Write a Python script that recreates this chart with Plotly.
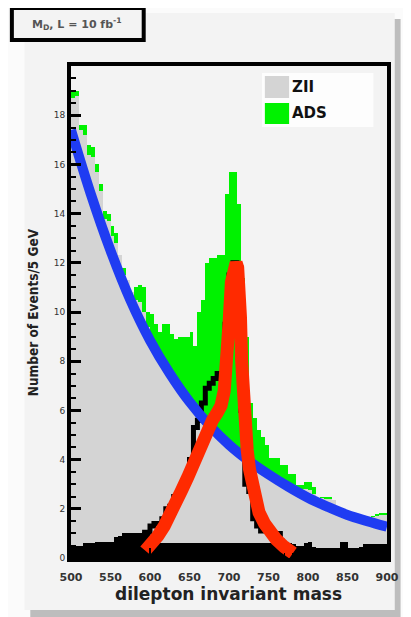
import plotly.graph_objects as go

# ---------------- data ----------------
mass_lo = list(range(500, 900, 5))  # left edges of 5 GeV bins

ads = [19.0, 19.0, 17.6, 17.6, 16.8, 16.7, 16.0, 15.2, 14.1, 14.0,
       13.5, 13.2, 12.3, 11.8, 11.3, 10.8, 11.0, 11.1, 11.0, 10.0,
       9.9, 9.5, 9.2, 9.5, 9.5, 9.1, 8.9, 9.0, 9.0, 9.0,
       9.2, 8.6, 10.0, 10.5, 12.0, 12.2, 12.2, 12.3, 12.3, 14.8,
       15.7, 15.7, 14.4, 11.4, 9.0, 6.3, 5.7, 5.2, 4.9, 4.6,
       4.05, 4.05, 4.05, 3.8, 3.8, 3.4, 3.4, 2.95, 2.95, 3.1,
       3.1, 2.9, 2.45, 2.5, 2.5, 2.5, 2.35, 2.05, 2.05, 1.85,
       1.86, 1.86, 1.7, 1.65, 1.65, 1.65, 1.7, 1.8, 1.82, 1.82]

zii = [18.7, 18.8, 17.4, 17.2, 16.4, 16.3, 15.7, 14.9, 13.8, 13.7,
       13.1, 12.8, 12.3, 11.5, 11.3, 10.8, 10.5, 10.4, 10.0, 9.4,
       8.7, 8.4, 8.1, 7.9, 7.6, 7.4, 7.1, 6.9, 6.7, 6.5,
       6.2, 6.0, 5.8, 5.6, 5.4, 5.2, 5.0, 4.9, 4.7, 4.6,
       4.4, 4.3, 4.2, 4.0, 3.9, 3.8, 3.8, 3.7, 3.6, 3.5,
       3.4, 3.3, 3.3, 3.2, 3.1, 3.0, 2.95, 2.85, 2.8, 2.8,
       2.75, 2.6, 2.45, 2.45, 2.4, 2.4, 2.35, 1.95, 1.9, 1.85,
       1.8, 1.75, 1.7, 1.65, 1.6, 1.6, 1.65, 1.7, 1.75, 1.75]

# low black band along the axis (all bins)
black_band = [0.45, 0.5, 0.5, 0.6, 0.6, 0.6, 0.65, 0.65, 0.65, 0.65,
              0.65, 0.85, 0.9, 1.0, 1.0, 1.0, 1.0, 1.0, 1.05, 1.05,
              0.6, 0.6, 0.6, 0.6, 0.6, 0.6, 0.6, 0.6, 0.6, 0.6,
              0.6, 0.6, 0.6, 0.6, 0.6, 0.6, 0.6, 0.6, 0.6, 0.6,
              0.6, 0.6, 0.6, 0.6, 0.6, 0.6, 0.6, 0.6, 0.6, 0.6,
              0.6, 0.6, 0.6, 0.7, 0.6, 0.6, 0.55, 0.5, 0.5, 0.6,
              0.64, 0.45, 0.4, 0.4, 0.4, 0.4, 0.4, 0.4, 0.64, 0.64,
              0.4, 0.4, 0.4, 0.45, 0.55, 0.55, 0.55, 0.55, 0.55, 0.55]

# black outline histogram around the resonance (bin left edges 590..765, closing edge 770)
peak_lo = list(range(590, 775, 5))
peak_hist = [1.05, 1.05, 1.3, 1.4, 1.4, 1.6, 2.0, 2.1, 2.5, 2.6,
             3.0, 3.3, 4.0, 5.3, 5.6, 6.3, 6.9, 7.1, 7.3, 7.5,
             7.5, 9.5, 11.5, 12.0, 11.8, 6.0, 3.0, 2.7, 1.6, 1.3,
             1.1, 1.1, 1.0, 1.0, 1.0, 0.7, 0.7]

bkg_fit_m = [500, 525, 550, 575, 600, 625, 650, 675, 700, 725, 750, 775, 800, 825, 850, 875, 900]
bkg_fit_y = [17.4, 14.8, 12.5, 10.5, 8.85, 7.5, 6.35, 5.4, 4.6, 3.95, 3.4, 2.9, 2.45, 2.08, 1.75, 1.5, 1.27]

sig_fit_m = [594, 603, 610, 618, 626, 633, 640, 648, 655, 661, 667, 673, 679, 685, 690, 694, 697,
             700, 703, 705, 707, 709, 711, 713, 714.5, 716, 718, 720, 723, 726, 729, 733, 738, 745, 752,
             760, 770, 781]
sig_fit_y = [0.3, 0.6, 0.9, 1.3, 1.75, 2.2, 2.75, 3.3, 3.9, 4.4, 4.9, 5.3, 5.6, 5.9, 6.2, 6.8, 7.8,
             9.5, 11.2, 11.8, 12.0, 12.0, 11.8, 11.0, 9.8, 8.0, 6.5, 5.5, 4.4, 3.6, 3.0, 2.4, 1.85, 1.4,
             1.05, 0.75, 0.45, 0.2]

x_ticks = [500, 550, 600, 650, 700, 750, 800, 850, 900]
y_ticks = [0, 2, 4, 6, 8, 10, 12, 14, 16, 18]
legend_labels = ["ZII", "ADS"]

# ---------------- layout geometry (page pixels; page body has an 8px margin) ----------------
OFF = 8
W, H = 411 - OFF, 617 - OFF
L, T = 71 - OFF, 66 - OFF
PW, PH = 326, 492
R, B = W - L - PW, H - T - PH


def px(xp):
    return (xp - OFF - L) / PW


def py(yp):
    return (T + PH - (yp - OFF)) / PH


GREEN = "#00f200"
GRAY = "#d4d4d4"
BLUE = "#1f3cf2"
RED = "#ff2a00"
BG = "#f3f3f3"

fig = go.Figure()
fig.add_trace(go.Bar(x=mass_lo, y=ads, width=5, offset=0, marker=dict(color=GREEN, line=dict(width=0)),
                     name=legend_labels[1], showlegend=False))
fig.add_trace(go.Bar(x=mass_lo, y=zii, width=5, offset=0, marker=dict(color=GRAY, line=dict(width=0)),
                     name=legend_labels[0], showlegend=False))
fig.add_trace(go.Bar(x=mass_lo, y=black_band, width=5, offset=0, marker=dict(color="#000000", line=dict(width=0)),
                     showlegend=False))
fig.add_trace(go.Scatter(x=peak_lo, y=peak_hist, mode="lines", line=dict(color="#000000", width=5, shape="hv"),
                         showlegend=False))
fig.add_trace(go.Scatter(x=bkg_fit_m, y=bkg_fit_y, mode="lines", line=dict(color=BLUE, width=10, shape="spline"),
                         showlegend=False))
fig.add_trace(go.Scatter(x=sig_fit_m, y=sig_fit_y, mode="lines", line=dict(color=RED, width=13),
                         showlegend=False))

shapes = []
# pad shadow and pad
shapes.append(dict(type="rect", xref="paper", yref="paper", x0=px(29), x1=px(411), y0=py(617), y1=py(19),
                   fillcolor="#bdbdbd", line=dict(width=0), layer="below"))
shapes.append(dict(type="rect", xref="paper", yref="paper", x0=px(23), x1=px(405), y0=py(610), y1=py(13),
                   fillcolor=BG, line=dict(width=0), layer="below"))
# title box
shapes.append(dict(type="rect", xref="paper", yref="paper", x0=px(10), x1=px(146), y0=py(40), y1=py(8),
                   fillcolor=BG, line=dict(width=4, color="black"), layer="above"))
# legend box
shapes.append(dict(type="rect", xref="paper", yref="paper", x0=px(268), x1=px(383), y0=py(127), y1=py(73),
                   fillcolor="#fdfdfd", line=dict(width=0), layer="above"))
shapes.append(dict(type="rect", xref="paper", yref="paper", x0=px(271), x1=px(296), y0=py(98), y1=py(76),
                   fillcolor=GRAY, line=dict(width=0), layer="above"))
shapes.append(dict(type="rect", xref="paper", yref="paper", x0=px(271), x1=px(296), y0=py(124), y1=py(103),
                   fillcolor=GREEN, line=dict(width=0), layer="above"))

annotations = [
    dict(text="M<sub>D</sub>, L = 10 fb<sup>-1</sup>", xref="paper", yref="paper", x=px(77), y=py(24),
         showarrow=False, xanchor="center", yanchor="middle",
         font=dict(family="DejaVu Sans", size=11, color="#555555", weight="bold")),
    dict(text=legend_labels[0], xref="paper", yref="paper", x=px(297), y=py(87), showarrow=False,
         xanchor="left", yanchor="middle", font=dict(family="DejaVu Sans", size=15, color="#111111", weight="bold")),
    dict(text=legend_labels[1], xref="paper", yref="paper", x=px(297), y=py(113), showarrow=False,
         xanchor="left", yanchor="middle", font=dict(family="DejaVu Sans", size=15, color="#111111", weight="bold")),
    dict(text="dilepton invariant mass", xref="paper", yref="paper", x=px(233), y=py(594), showarrow=False,
         xanchor="center", yanchor="middle", font=dict(family="DejaVu Sans", size=17, color="#222222", weight="bold")),
    dict(text="Number of Events/5 GeV", xref="paper", yref="paper", x=px(32), y=py(312), showarrow=False,
         textangle=-90, xanchor="center", yanchor="middle",
         font=dict(family="Liberation Sans Narrow, DejaVu Sans Condensed, Liberation Sans", size=13.5,
                   color="#222222", weight="bold")),
]

fig.update_layout(
    width=W, height=H,
    margin=dict(l=L, r=R, t=T, b=B, pad=0),
    paper_bgcolor="#fbfbfb",
    plot_bgcolor=BG,
    barmode="overlay",
    bargap=0,
    shapes=shapes,
    annotations=annotations,
    showlegend=False,
    xaxis=dict(range=[500, 900], tickvals=x_ticks, ticktext=[str(v) for v in x_ticks],
               showgrid=False, zeroline=False, showline=True, linewidth=4, linecolor="black", mirror=True,
               ticks="inside", ticklen=10, tickwidth=2, tickcolor="black", ticklabelstandoff=6,
               minor=dict(dtick=10, ticks="inside", ticklen=5, tickwidth=1, tickcolor="black"),
               tickfont=dict(family="DejaVu Sans", size=11, color="#333333", weight="bold")),
    yaxis=dict(range=[0, 20], tickvals=y_ticks, ticktext=[str(v) for v in y_ticks],
               showgrid=False, zeroline=False, showline=True, linewidth=4, linecolor="black", mirror=True,
               ticks="inside", ticklen=10, tickwidth=3, tickcolor="black",
               minor=dict(dtick=0.5, ticks="inside", ticklen=5, tickwidth=2, tickcolor="black"),
               tickfont=dict(family="DejaVu Sans", size=9, color="#333333")),
)

fig.write_html("out.html")
